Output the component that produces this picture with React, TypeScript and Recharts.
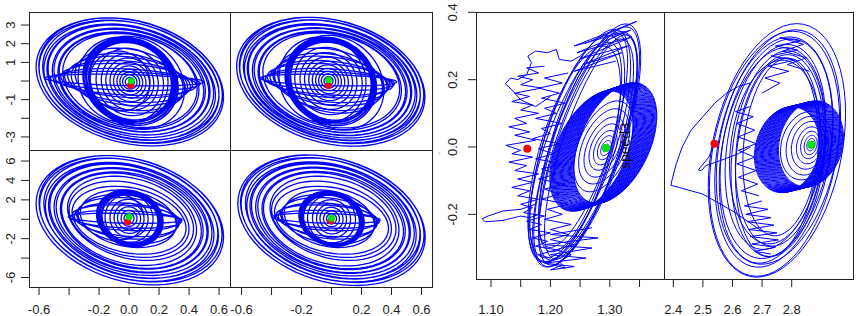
import React from "react"
import { ComposedChart, Line, Scatter, XAxis, YAxis } from "recharts"

const BLUE = "#0000ff"
const RED = "#ff0000"
const GREEN = "#00e600"
const INK = "#222"
const FONT = "'Liberation Sans', Arial, sans-serif"

// loops are [cx, cy, a, b, k] : x = cx + a cos t, y = cy + b sin t - k cos t
// ---- panel A (top left) ----
const A_OUTER = [
  [0.005, -0.05, 0.625, 3.34, 0.8], [0.01, 0.02, 0.612, 3.28, 0.78], [0.0, -0.02, 0.6, 3.2, 0.75],
  [0.012, 0.04, 0.588, 3.12, 0.73], [0.004, -0.06, 0.572, 3.04, 0.7], [0.008, 0.0, 0.556, 2.96, 0.66],
  [0.0, 0.05, 0.54, 2.88, 0.64], [0.01, -0.03, 0.522, 2.8, 0.6], [0.004, 0.02, 0.505, 2.7, 0.56],
  [0.012, -0.04, 0.486, 2.62, 0.53], [0.0, 0.0, 0.466, 2.54, 0.5], [0.006, 0.03, 0.448, 2.48, 0.47],
]
const A_FLAT = [
  [-0.03, 0.05, 0.53, 0.3, 0.1], [-0.025, 0.0, 0.5, 0.5, 0.14], [-0.02, -0.05, 0.47, 0.7, 0.18],
  [-0.015, 0.02, 0.44, 0.9, 0.22], [-0.01, -0.03, 0.42, 1.1, 0.26], [-0.01, 0.0, 0.4, 1.3, 0.3],
  [-0.005, -0.05, 0.38, 1.5, 0.34], [0.0, 0.02, 0.36, 1.7, 0.38],
]
const A_RING = [
  [0.01, -0.02, 0.318, 2.34, 0.32], [0.012, -0.05, 0.312, 2.31, 0.3], [0.006, 0.0, 0.307, 2.28, 0.3],
  [0.014, -0.03, 0.302, 2.25, 0.28], [0.008, -0.06, 0.297, 2.22, 0.27], [0.01, 0.02, 0.292, 2.19, 0.26],
  [0.004, -0.04, 0.287, 2.16, 0.25], [0.012, -0.01, 0.282, 2.13, 0.24], [0.008, -0.05, 0.277, 2.1, 0.24],
  [0.01, 0.0, 0.272, 2.07, 0.23], [-0.04, 0.05, 0.3, 2.3, 0.15], [0.04, -0.08, 0.33, 2.45, 0.4],
]
const A_INNER = [
  [0.005, -0.05, 0.03, 0.24, 0.0], [0.005, -0.05, 0.048, 0.38, 0.02], [0.005, -0.05, 0.066, 0.52, 0.03],
  [0.005, -0.05, 0.086, 0.68, 0.05], [0.005, -0.05, 0.108, 0.86, 0.06], [0.005, -0.05, 0.132, 1.05, 0.08],
  [0.005, -0.05, 0.16, 1.28, 0.1], [0.005, -0.05, 0.19, 1.52, 0.12], [0.005, -0.05, 0.225, 1.8, 0.15],
  [-0.06, 0.0, 0.2, 1.6, 0.1],
]
const A_DOTS = { red: [0.01, -0.23], green: [0.015, 0.02] }

// ---- panel B (top right) ----
const B_OUTER = [
  [-0.005, -0.04, 0.628, 3.36, 0.82], [0.0, 0.03, 0.615, 3.29, 0.79], [-0.01, -0.02, 0.602, 3.21, 0.76],
  [0.002, 0.05, 0.59, 3.14, 0.73], [-0.006, -0.06, 0.575, 3.06, 0.7], [-0.002, 0.0, 0.56, 2.98, 0.67],
  [-0.01, 0.04, 0.545, 2.9, 0.65], [0.0, -0.03, 0.528, 2.82, 0.61], [-0.006, 0.02, 0.51, 2.74, 0.58],
  [0.002, -0.04, 0.492, 2.66, 0.54], [-0.008, 0.0, 0.474, 2.58, 0.51], [-0.002, 0.03, 0.456, 2.5, 0.48],
]
const B_FLAT = [
  [-0.02, 0.05, 0.455, 0.3, 0.1], [-0.02, 0.0, 0.44, 0.5, 0.14], [-0.015, -0.05, 0.425, 0.7, 0.18],
  [-0.02, 0.02, 0.41, 0.9, 0.22], [-0.015, -0.03, 0.395, 1.1, 0.26], [-0.01, 0.0, 0.38, 1.3, 0.3],
  [-0.015, -0.05, 0.365, 1.5, 0.34], [-0.01, 0.02, 0.35, 1.7, 0.38],
]
const B_RING = [
  [-0.005, -0.02, 0.305, 2.36, 0.3], [-0.003, -0.05, 0.3, 2.33, 0.29], [-0.008, 0.0, 0.296, 2.3, 0.28],
  [-0.002, -0.03, 0.292, 2.27, 0.27], [-0.006, -0.06, 0.288, 2.24, 0.26], [-0.004, 0.02, 0.284, 2.21, 0.25],
  [-0.008, -0.04, 0.28, 2.18, 0.24], [-0.002, -0.01, 0.276, 2.15, 0.23], [-0.006, -0.05, 0.272, 2.12, 0.23],
  [-0.004, 0.0, 0.268, 2.09, 0.22], [-0.06, 0.05, 0.29, 2.3, 0.15], [0.03, -0.08, 0.32, 2.5, 0.4],
]
const B_INNER = [
  [-0.02, 0.0, 0.03, 0.24, 0.0], [-0.02, 0.0, 0.048, 0.38, 0.02], [-0.02, 0.0, 0.066, 0.52, 0.03],
  [-0.02, 0.0, 0.086, 0.68, 0.05], [-0.02, 0.0, 0.108, 0.86, 0.06], [-0.02, 0.0, 0.132, 1.05, 0.08],
  [-0.02, 0.0, 0.16, 1.28, 0.1], [-0.02, 0.0, 0.19, 1.52, 0.12], [-0.02, 0.0, 0.225, 1.8, 0.15],
]
const B_DOTS = { red: [-0.022, -0.23], green: [-0.02, 0.07] }

// ---- panel C (bottom left) ----
const C_OUTER = [
  [0.005, -0.1, 0.625, 6.45, 1.7], [0.01, 0.05, 0.61, 6.3, 1.66], [0.0, -0.05, 0.596, 6.15, 1.6],
  [0.012, 0.1, 0.58, 5.98, 1.55], [0.004, -0.12, 0.562, 5.8, 1.49], [0.008, 0.0, 0.545, 5.62, 1.43],
  [0.0, 0.08, 0.528, 5.44, 1.36], [0.01, -0.06, 0.51, 5.24, 1.3], [0.004, 0.04, 0.49, 5.04, 1.23],
  [0.012, -0.08, 0.47, 4.84, 1.17], [0.0, 0.0, 0.45, 4.64, 1.1],
]
const C_FLAT = [
  [-0.025, 0.1, 0.38, 0.5, 0.15], [-0.02, 0.0, 0.37, 0.9, 0.22], [-0.02, 0.15, 0.36, 1.3, 0.3],
  [-0.015, -0.05, 0.35, 1.7, 0.38], [-0.01, 0.1, 0.34, 2.1, 0.46], [-0.01, 0.0, 0.33, 2.5, 0.54],
  [-0.005, 0.05, 0.32, 2.9, 0.62],
  [0.0, 0.0, 0.4, 3.8, 1.0], [0.01, 0.1, 0.42, 4.2, 1.1], [0.0, -0.1, 0.38, 3.4, 0.85],
]
const C_RING = [
  [0.005, 0.1, 0.222, 2.9, 0.4], [0.008, 0.05, 0.218, 2.85, 0.38], [0.002, 0.15, 0.214, 2.8, 0.36],
  [0.01, 0.08, 0.21, 2.76, 0.35], [0.004, 0.0, 0.206, 2.72, 0.34], [0.006, 0.12, 0.202, 2.68, 0.32],
  [0.0, 0.05, 0.198, 2.64, 0.31], [0.008, 0.1, 0.194, 2.6, 0.3], [0.003, 0.02, 0.19, 2.55, 0.29],
  [0.006, 0.08, 0.186, 2.5, 0.28],
]
const C_INNER = [
  [0.0, 0.1, 0.033, 0.52, 0.0], [0.0, 0.1, 0.053, 0.82, 0.02], [0.0, 0.1, 0.077, 1.19, 0.04],
  [0.0, 0.1, 0.1, 1.55, 0.06], [0.0, 0.1, 0.127, 1.96, 0.08], [0.0, 0.1, 0.16, 2.47, 0.1],
  [-0.05, 0.2, 0.15, 2.3, 0.1],
]
const C_DOTS = { red: [-0.01, -0.25], green: [0.0, 0.25] }

// ---- panel D (bottom right) ----
const D_OUTER = [
  [0.0, -0.1, 0.625, 6.5, 1.74], [0.005, 0.05, 0.612, 6.35, 1.68], [-0.005, -0.05, 0.598, 6.2, 1.63],
  [0.008, 0.1, 0.582, 6.02, 1.57], [0.0, -0.12, 0.565, 5.85, 1.51], [0.004, 0.0, 0.548, 5.66, 1.45],
  [-0.004, 0.08, 0.53, 5.48, 1.38], [0.006, -0.06, 0.512, 5.28, 1.32], [0.0, 0.04, 0.492, 5.08, 1.26],
  [0.008, -0.08, 0.472, 4.88, 1.19], [-0.002, 0.0, 0.452, 4.68, 1.12],
]
const D_FLAT = [
  [-0.035, 0.1, 0.36, 0.5, 0.15], [-0.03, 0.0, 0.35, 0.9, 0.22], [-0.03, 0.15, 0.34, 1.3, 0.3],
  [-0.025, -0.05, 0.33, 1.7, 0.38], [-0.02, 0.1, 0.32, 2.1, 0.46], [-0.02, 0.0, 0.31, 2.5, 0.54],
  [-0.015, 0.05, 0.3, 2.9, 0.62],
  [0.0, 0.0, 0.4, 3.8, 1.0], [0.01, 0.1, 0.42, 4.2, 1.1], [0.0, -0.1, 0.38, 3.4, 0.85],
]
const D_RING = [
  [0.0, 0.05, 0.218, 2.82, 0.38], [0.003, 0.0, 0.214, 2.78, 0.37], [-0.003, 0.1, 0.21, 2.74, 0.36],
  [0.004, 0.03, 0.206, 2.7, 0.35], [-0.002, -0.05, 0.202, 2.66, 0.34], [0.002, 0.08, 0.198, 2.62, 0.32],
  [-0.004, 0.0, 0.194, 2.58, 0.31], [0.003, 0.06, 0.19, 2.54, 0.3], [0.0, -0.02, 0.186, 2.5, 0.29],
]
const D_INNER = [
  [0.0, 0.05, 0.033, 0.52, 0.0], [0.0, 0.05, 0.053, 0.82, 0.02], [0.0, 0.05, 0.077, 1.19, 0.04],
  [0.0, 0.05, 0.1, 1.55, 0.06], [0.0, 0.05, 0.127, 1.96, 0.08], [0.0, 0.05, 0.16, 2.47, 0.1],
]
const D_DOTS = { red: [-0.005, -0.15], green: [0.0, 0.1] }

// ---- panel E (right block, left) ----
const E_RING_C = [
  [1.269, -0.012], [1.2705, -0.011], [1.272, -0.0102], [1.2735, -0.0091], [1.275, -0.0085], [1.2765, -0.0072],
  [1.278, -0.0066], [1.2795, -0.0054], [1.281, -0.0049], [1.2825, -0.0036], [1.284, -0.003], [1.2855, -0.0019],
  [1.287, -0.0012], [1.2885, 0.0], [1.29, 0.0006], [1.2915, 0.0018], [1.293, 0.0024], [1.2945, 0.0037],
  [1.296, 0.0042], [1.2975, 0.0055], [1.299, 0.006], [1.3005, 0.0073], [1.302, 0.0078], [1.3035, 0.009],
  [1.305, 0.0096], [1.3065, 0.0107], [1.308, 0.0113], [1.309, 0.012],
]
const E_RING_SIZE = [0.07, 0.16, -0.08]
const E_SPIRAL = [
  [1.2936, -0.003, 0.005, 0.01, -0.005], [1.2936, -0.003, 0.009, 0.02, -0.01], [1.293, -0.002, 0.014, 0.032, -0.016],
  [1.2925, -0.002, 0.02, 0.046, -0.022], [1.292, 0.0, 0.027, 0.062, -0.03], [1.2915, 0.0, 0.035, 0.08, -0.04],
  [1.2905, 0.002, 0.043, 0.1, -0.05], [1.2895, 0.002, 0.05, 0.12, -0.062],
]
const E_ARCS = [
  [1.262, 0.005, 0.09, 0.25, -0.26], [1.258, -0.01, 0.088, 0.24, -0.25], [1.265, 0.01, 0.085, 0.235, -0.255],
  [1.255, 0.0, 0.092, 0.245, -0.24], [1.26, -0.015, 0.08, 0.23, -0.245], [1.25, 0.01, 0.085, 0.25, -0.23],
  [1.268, 0.0, 0.078, 0.22, -0.25], [1.245, -0.005, 0.08, 0.255, -0.22], [1.255, 0.02, 0.075, 0.215, -0.235],
  [1.24, -0.02, 0.078, 0.25, -0.2], [1.25, 0.0, 0.07, 0.23, -0.21],
]
const E_PATHS = [
  [[1.19, 0.24], [1.16, 0.235], [1.18, 0.22], [1.145, 0.21], [1.17, 0.2], [1.15, 0.185], [1.185, 0.175],
   [1.14, 0.16], [1.165, 0.15], [1.135, 0.135], [1.17, 0.125], [1.15, 0.11], [1.18, 0.1], [1.14, 0.085],
   [1.16, 0.07], [1.13, 0.06], [1.165, 0.045], [1.14, 0.035], [1.175, 0.02], [1.125, 0.005], [1.15, -0.01],
   [1.135, -0.02], [1.17, -0.03], [1.13, -0.045], [1.16, -0.055], [1.14, -0.07], [1.18, -0.08], [1.145, -0.095],
   [1.17, -0.105], [1.135, -0.12], [1.165, -0.13], [1.145, -0.145], [1.18, -0.155], [1.15, -0.17], [1.17, -0.18],
   [1.155, -0.195], [1.19, -0.205], [1.16, -0.22], [1.185, -0.23], [1.165, -0.245], [1.2, -0.255], [1.17, -0.27],
   [1.195, -0.28], [1.175, -0.295], [1.21, -0.305], [1.18, -0.32], [1.2, -0.33]],
  [[1.23, 0.22], [1.19, 0.205], [1.22, 0.19], [1.18, 0.175], [1.215, 0.16], [1.185, 0.145], [1.225, 0.13],
   [1.19, 0.115], [1.21, 0.1], [1.175, 0.085], [1.22, 0.07], [1.185, 0.055], [1.2, 0.04], [1.17, 0.025],
   [1.215, 0.01], [1.18, -0.005], [1.205, -0.02], [1.175, -0.035], [1.22, -0.05], [1.185, -0.065], [1.21, -0.08],
   [1.18, -0.095], [1.225, -0.11], [1.19, -0.125], [1.215, -0.14], [1.185, -0.155], [1.23, -0.17], [1.195, -0.185],
   [1.22, -0.2], [1.19, -0.215], [1.235, -0.23], [1.2, -0.245], [1.23, -0.26], [1.2, -0.275], [1.24, -0.29],
   [1.21, -0.305], [1.235, -0.32], [1.215, -0.34], [1.225, -0.36], [1.205, -0.35]],
  [[1.27, -0.24], [1.2, -0.26], [1.28, -0.27], [1.19, -0.29], [1.27, -0.3], [1.2, -0.32], [1.26, -0.33],
   [1.19, -0.345], [1.24, -0.355], [1.2, -0.365], [1.22, -0.35]],
  [[1.258, 0.307], [1.345, 0.373], [1.24, 0.3], [1.335, 0.347], [1.245, 0.28], [1.337, 0.327], [1.25, 0.262],
   [1.33, 0.3], [1.255, 0.245], [1.32, 0.28], [1.24, 0.225], [1.31, 0.255]],
  [[1.2, 0.15], [1.175, 0.12], [1.15, 0.14], [1.135, 0.17], [1.124, 0.188], [1.133, 0.205], [1.145, 0.2],
   [1.16, 0.215], [1.168, 0.25], [1.162, 0.27], [1.175, 0.285], [1.195, 0.28], [1.21, 0.29], [1.215, 0.26],
   [1.235, 0.255], [1.25, 0.27], [1.262, 0.29]],
  [[1.175, -0.17], [1.15, -0.185], [1.12, -0.19], [1.095, -0.205], [1.085, -0.213], [1.09, -0.222],
   [1.12, -0.218], [1.15, -0.205], [1.165, -0.21], [1.18, -0.2]],
]
const E_DOTS = { red: [1.161, -0.005], green: [1.2936, -0.003] }

// ---- panel F (right block, right) ----
const F_RING_C = [
  [2.784, -0.008], [2.787, -0.0074], [2.79, -0.0068], [2.793, -0.006], [2.796, -0.0055], [2.799, -0.0047],
  [2.802, -0.0042], [2.805, -0.0035], [2.808, -0.0028], [2.811, -0.0022], [2.814, -0.0016], [2.817, -0.0009],
  [2.82, -0.0003], [2.823, 0.0004], [2.826, 0.001], [2.829, 0.0017], [2.832, 0.0023], [2.835, 0.0029],
  [2.838, 0.0036], [2.841, 0.0042], [2.844, 0.0049], [2.847, 0.0055], [2.85, 0.0062], [2.853, 0.0068],
  [2.856, 0.0074], [2.859, 0.0081], [2.862, 0.0087], [2.865, 0.0094],
]
const F_RING_SIZE = [0.11, 0.126, -0.02]
const F_SPIRAL = [
  [2.866, 0.007, 0.008, 0.01, -0.002], [2.865, 0.007, 0.014, 0.018, -0.004], [2.864, 0.006, 0.022, 0.028, -0.006],
  [2.862, 0.006, 0.032, 0.04, -0.008], [2.86, 0.005, 0.044, 0.054, -0.01], [2.857, 0.005, 0.058, 0.07, -0.012],
  [2.853, 0.004, 0.072, 0.086, -0.015], [2.848, 0.004, 0.086, 0.1, -0.018],
]
const F_ARCS = [
  [2.75, -0.01, 0.232, 0.36, -0.11], [2.742, -0.02, 0.22, 0.35, -0.1], [2.755, 0.0, 0.21, 0.335, -0.095],
  [2.74, -0.015, 0.2, 0.33, -0.09], [2.748, -0.005, 0.19, 0.315, -0.085], [2.735, -0.025, 0.18, 0.31, -0.08],
  [2.745, 0.0, 0.17, 0.295, -0.075], [2.755, -0.02, 0.16, 0.3, -0.06], [2.76, -0.01, 0.15, 0.28, -0.05],
  [2.75, -0.03, 0.14, 0.29, -0.055], [2.765, 0.0, 0.13, 0.26, -0.045], [2.745, -0.015, 0.155, 0.27, -0.04],
]
const F_PATHS = [
  [[2.7, -0.16], [2.64, -0.175], [2.72, -0.185], [2.645, -0.2], [2.73, -0.21], [2.65, -0.222], [2.74, -0.232],
   [2.655, -0.245], [2.75, -0.255], [2.66, -0.266], [2.755, -0.276], [2.665, -0.288], [2.745, -0.298],
   [2.675, -0.31], [2.73, -0.318]],
  [[2.7, 0.16], [2.76, 0.19], [2.71, 0.205], [2.79, 0.225], [2.72, 0.24], [2.81, 0.258], [2.73, 0.27],
   [2.82, 0.288], [2.745, 0.3], [2.83, 0.315], [2.76, 0.325], [2.84, 0.305], [2.77, 0.285], [2.85, 0.265],
   [2.785, 0.245], [2.86, 0.225]],
  [[2.539, 0.01], [2.52, -0.03], [2.49, -0.062], [2.485, -0.068], [2.495, -0.07], [2.51, -0.055], [2.56, -0.04],
   [2.62, -0.02], [2.66, 0.0]],
  [[2.7, -0.25], [2.6, -0.19], [2.5, -0.14], [2.42, -0.12], [2.392, -0.114], [2.395, -0.1], [2.41, -0.05],
   [2.43, 0.0], [2.46, 0.05], [2.5, 0.09], [2.54, 0.13], [2.58, 0.16], [2.62, 0.18], [2.66, 0.19]],
  [[2.66, 0.12], [2.61, 0.105], [2.67, 0.09], [2.615, 0.07], [2.675, 0.05], [2.62, 0.03], [2.68, 0.01],
   [2.62, -0.01], [2.675, -0.03], [2.615, -0.05], [2.68, -0.07], [2.62, -0.09], [2.685, -0.11], [2.63, -0.13],
   [2.69, -0.145]],
]
const F_DOTS = { red: [2.539, 0.01], green: [2.866, 0.007] }

// ---- axes ----
const LEFT_X_TICKS = [-0.6, -0.4, -0.2, 0, 0.2, 0.4, 0.6]
const C_X_LABELS = ["-0.6", "", "-0.2", "0.0", "0.2", "0.4", "0.6"]
const D_X_LABELS = ["-0.6", "", "-0.2", "", "0.2", "0.4", "0.6"]
const TOP_Y_TICKS = [-3, -2, -1, 0, 1, 2, 3]
const TOP_Y_LABELS = ["-3", "", "-1", "", "1", "2", "3"]
const BOT_Y_TICKS = [-6, -4, -2, 0, 2, 4, 6]
const BOT_Y_LABELS = ["-6", "", "-2", "", "2", "4", "6"]
const E_X_TICKS = [1.1, 1.15, 1.2, 1.25, 1.3, 1.35]
const E_X_LABELS = ["1.10", "", "1.20", "", "1.30", ""]
const F_X_TICKS = [2.4, 2.5, 2.6, 2.7, 2.8]
const F_X_LABELS = ["2.4", "2.5", "2.6", "2.7", "2.8"]
const R_Y_TICKS = [-0.2, 0, 0.2, 0.4]
const R_Y_LABELS = ["-0.2", "0.0", "0.2", "0.4"]

type Pt = { x: number | null; y: number | null }
const STEPS = 64

function traceLoops(loops: number[][]): Pt[] {
  const out: Pt[] = []
  loops.forEach(([cx, cy, a, b, k]) => {
    for (let i = 0; i <= STEPS; i++) {
      const t = (i / STEPS) * Math.PI * 2
      out.push({ x: cx + a * Math.cos(t), y: cy + b * Math.sin(t) - k * Math.cos(t) })
    }
    out.push({ x: null, y: null })
  })
  return out
}

function tracePaths(paths: number[][][]): Pt[] {
  const out: Pt[] = []
  paths.forEach((p) => {
    p.forEach(([x, y]) => out.push({ x, y }))
    out.push({ x: null, y: null })
  })
  return out
}

const ringLoops = (centres: number[][], size: number[]) => centres.map(([cx, cy]) => [cx, cy, ...size])

const labelOf = (ticks: number[], labels: string[], v: number) => {
  const i = ticks.findIndex((t) => Math.abs(t - v) < 1e-9)
  return i < 0 ? "" : labels[i]
}

interface PanelProps {
  left: number
  top: number
  w: number
  h: number
  yAxisW?: number
  xAxisH?: number
  xDomain: number[]
  yDomain: number[]
  xTicks?: number[]
  xLabels?: string[]
  xLabelDy?: number
  yTicks?: number[]
  yLabels?: string[]
  yLabelDx?: number
  series: Pt[][]
  strokeWidth: number
  dots: { red: number[]; green: number[] }
  dotR: number
}

const PAD = 12

function Panel(props: PanelProps) {
  const { left, top, w, h, yAxisW = 0, xAxisH = 0, series, strokeWidth, dots, dotR } = props
  const xTick = (p: any) => (
    <text x={p.x} y={p.y + (props.xLabelDy ?? 0)} textAnchor="middle" fontSize={13} fontFamily={FONT} fill={INK}>
      {labelOf(props.xTicks ?? [], props.xLabels ?? [], p.payload.value)}
    </text>
  )
  const yTick = (p: any) => {
    const cx = p.x + (props.yLabelDx ?? 0)
    return (
      <text x={cx} y={p.y} dy="0.36em" transform={`rotate(-90 ${cx} ${p.y})`} textAnchor="middle"
        fontSize={13} fontFamily={FONT} fill={INK}>
        {labelOf(props.yTicks ?? [], props.yLabels ?? [], p.payload.value)}
      </text>
    )
  }
  return (
    <div style={{ position: "absolute", left: left - yAxisW, top: top - PAD }}>
      <ComposedChart width={w + yAxisW} height={h + xAxisH + PAD} margin={{ top: PAD, right: 0, bottom: 0, left: 0 }}>
        <XAxis type="number" dataKey="x" domain={props.xDomain} allowDataOverflow hide={!xAxisH}
          height={xAxisH} ticks={props.xTicks} interval={0} tick={xTick} tickSize={8} tickMargin={0}
          axisLine={false} tickLine={{ stroke: INK }} stroke={INK} />
        <YAxis type="number" dataKey="y" domain={props.yDomain} allowDataOverflow hide={!yAxisW}
          width={yAxisW} ticks={props.yTicks} interval={0} tick={yTick} tickSize={8} tickMargin={0}
          axisLine={false} tickLine={{ stroke: INK }} stroke={INK} />
        {series.map((d, i) => (
          <Line key={i} data={d} dataKey="y" type="linear" stroke={BLUE} strokeWidth={strokeWidth}
            dot={false} activeDot={false} connectNulls={false} isAnimationActive={false} />
        ))}
        <Scatter data={[{ x: dots.red[0], y: dots.red[1] }]} isAnimationActive={false}
          shape={(p: any) => <circle cx={p.cx} cy={p.cy} r={dotR} fill={RED} />} />
        <Scatter data={[{ x: dots.green[0], y: dots.green[1] }]} isAnimationActive={false}
          shape={(p: any) => <circle cx={p.cx} cy={p.cy} r={dotR} fill={GREEN} />} />
      </ComposedChart>
    </div>
  )
}

const hLine = (x1: number, x2: number, y: number, key: string) => (
  <div key={key} style={{ position: "absolute", left: x1, top: y, width: x2 - x1 + 1, height: 1, background: INK }} />
)
const vLine = (x: number, y1: number, y2: number, key: string) => (
  <div key={key} style={{ position: "absolute", left: x, top: y1, width: 1, height: y2 - y1 + 1, background: INK }} />
)

export default function App() {
  const topY = [-3.7, 3.7]
  const botY = [-6.98, 7.14]
  const rightY = [-0.392, 0.401]
  return (
    <div style={{ position: "absolute", left: 0, top: 0, width: 856, height: 316, background: "#fff", overflow: "hidden" }}>
      <Panel left={29} top={12} w={201} h={138} yAxisW={29} xDomain={[-0.667, 0.673]} yDomain={topY}
        yTicks={TOP_Y_TICKS} yLabels={TOP_Y_LABELS} yLabelDx={-11} strokeWidth={1.3} dotR={3.5} dots={A_DOTS}
        series={[traceLoops(A_OUTER), traceLoops(A_FLAT), traceLoops(A_RING), traceLoops(A_INNER)]} />
      <Panel left={230} top={12} w={202} h={138} xDomain={[-0.677, 0.67]} yDomain={topY}
        strokeWidth={1.3} dotR={3.5} dots={B_DOTS}
        series={[traceLoops(B_OUTER), traceLoops(B_FLAT), traceLoops(B_RING), traceLoops(B_INNER)]} />
      <Panel left={29} top={150} w={201} h={137} yAxisW={29} xAxisH={29} xDomain={[-0.667, 0.673]} yDomain={botY}
        xTicks={LEFT_X_TICKS} xLabels={C_X_LABELS} xLabelDy={19} yTicks={BOT_Y_TICKS} yLabels={BOT_Y_LABELS}
        yLabelDx={-11} strokeWidth={1.3} dotR={3.5} dots={C_DOTS}
        series={[traceLoops(C_OUTER), traceLoops(C_FLAT), traceLoops(C_RING), traceLoops(C_INNER)]} />
      <Panel left={230} top={150} w={202} h={137} xAxisH={29} xDomain={[-0.677, 0.67]} yDomain={botY}
        xTicks={LEFT_X_TICKS} xLabels={D_X_LABELS} xLabelDy={19} strokeWidth={1.3} dotR={3.5} dots={D_DOTS}
        series={[traceLoops(D_OUTER), traceLoops(D_FLAT), traceLoops(D_RING), traceLoops(D_INNER)]} />
      <Panel left={476} top={12} w={188} h={267} yAxisW={36} xAxisH={37} xDomain={[1.0747, 1.3912]} yDomain={rightY}
        xTicks={E_X_TICKS} xLabels={E_X_LABELS} xLabelDy={27} yTicks={R_Y_TICKS} yLabels={R_Y_LABELS}
        yLabelDx={-16} strokeWidth={1} dotR={4} dots={E_DOTS}
        series={[tracePaths(E_PATHS), traceLoops(E_ARCS), traceLoops(ringLoops(E_RING_C, E_RING_SIZE)), traceLoops(E_SPIRAL)]} />
      <Panel left={664} top={12} w={189} h={267} xAxisH={37} xDomain={[2.3686, 3.0071]} yDomain={rightY}
        xTicks={F_X_TICKS} xLabels={F_X_LABELS} xLabelDy={27} strokeWidth={1} dotR={4} dots={F_DOTS}
        series={[tracePaths(F_PATHS), traceLoops(F_ARCS), traceLoops(ringLoops(F_RING_C, F_RING_SIZE)), traceLoops(F_SPIRAL)]} />

      {[
        hLine(29, 432, 12, "l1"), hLine(29, 432, 287, "l2"), hLine(29, 432, 150, "l3"),
        vLine(29, 12, 287, "l4"), vLine(432, 12, 287, "l5"), vLine(230, 12, 287, "l6"),
        hLine(476, 853, 12, "r1"), hLine(476, 853, 279, "r2"),
        vLine(476, 12, 279, "r3"), vLine(853, 12, 279, "r4"), vLine(664, 12, 279, "r5"),
      ]}

      <div style={{ position: "absolute", left: 625, top: 146, transform: "translate(-50%, -50%) rotate(-90deg)",
        fontFamily: FONT, fontSize: 14, color: "#111", whiteSpace: "nowrap", lineHeight: 1 }}>
        speed3
      </div>
      <div style={{ position: "absolute", left: 438, top: 150, fontFamily: FONT, fontSize: 12, color: "#ccc" }}>'</div>
    </div>
  )
}
